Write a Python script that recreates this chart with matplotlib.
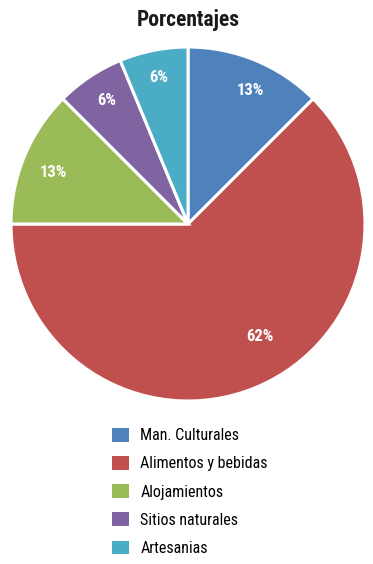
import matplotlib
matplotlib.use("Agg")
import matplotlib.pyplot as plt
from matplotlib.patches import Patch
import numpy as np

categories = ["Man. Culturales", "Alimentos y bebidas", "Alojamientos", "Sitios naturales", "Artesanias"]
values = [2, 10, 2, 1, 1]
pct_labels = ["13%", "62%", "13%", "6%", "6%"]
colors = ["#4F81BD", "#C0504D", "#9BBB59", "#8064A2", "#4BACC6"]
title = "Porcentajes"

FONT = ["Roboto Condensed", "Liberation Sans Narrow", "Liberation Sans", "DejaVu Sans"]
plt.rcParams["font.family"] = FONT

W, H = 373, 564
fig = plt.figure(figsize=(W / 100, H / 100), dpi=100)
cx, cy, r = 188, 224, 177
ax = fig.add_axes([(cx - r) / W, (H - cy - r) / H, 2 * r / W, 2 * r / H])
wedges, _ = ax.pie(values, colors=colors, startangle=90, counterclock=False,
                   radius=1, wedgeprops=dict(edgecolor="white", linewidth=2.2))
ax.set_xlim(-1, 1)
ax.set_ylim(-1, 1)
ax.set_aspect("equal")
ax.axis("off")

# label placement (distance fraction, angular shift in degrees) per slice
dist = [0.84, 0.75, 0.818, 0.84, 0.851]
shift = [-2.2, 10.4, 1.25, -0.8, 0]
for w, lab, d, s in zip(wedges, pct_labels, dist, shift):
    ang = np.deg2rad((w.theta1 + w.theta2) / 2 + s)
    ax.annotate(lab, (d * np.cos(ang), d * np.sin(ang)), xytext=(0, -4.3),
                textcoords="offset points", ha="center", va="baseline",
                color="white", fontsize=12, fontweight="semibold")

fig.text(cx / W, 1 - 26 / H, title, ha="center", va="baseline", fontsize=15.5,
         fontweight="bold", color="#1a1a1a")

handles = [Patch(facecolor=c, edgecolor="none") for c in colors]
fig.legend(handles, categories, loc="upper left", bbox_to_anchor=(105.6 / W, 1 - 421.5 / H),
           frameon=False, fontsize=11.5, handlelength=1.05, handleheight=0.95,
           handletextpad=0.72, labelspacing=0.8, borderaxespad=0)

fig.savefig("out.png", dpi=100)
